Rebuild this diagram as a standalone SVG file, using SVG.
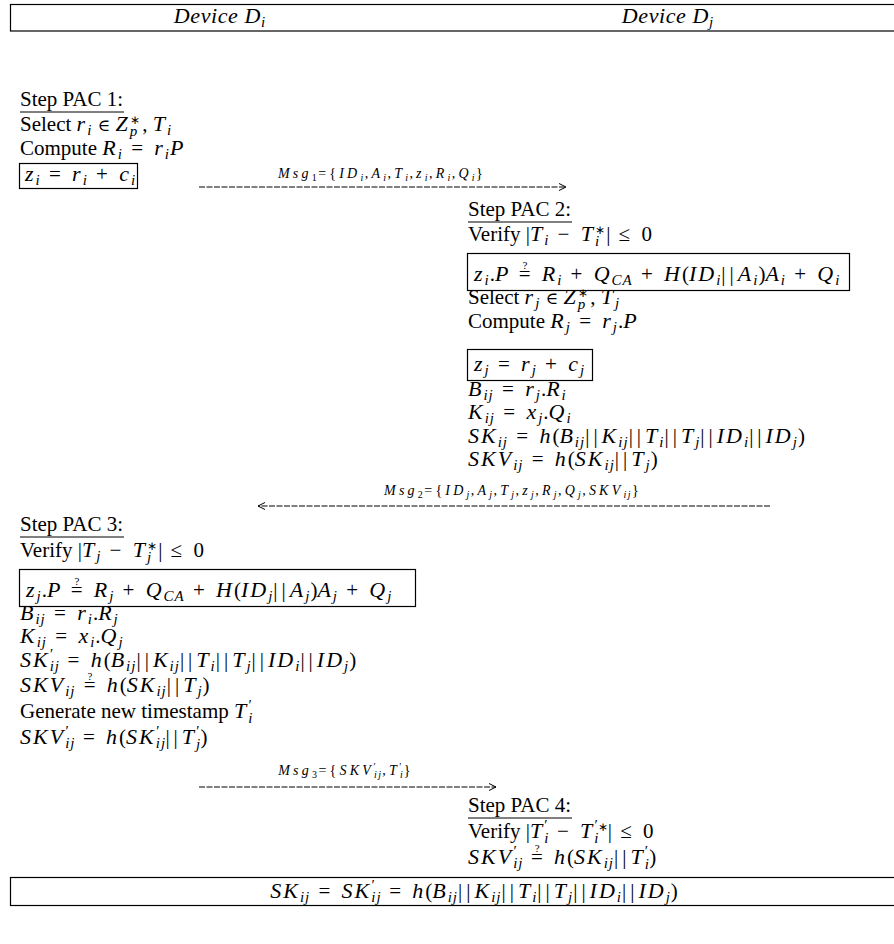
<svg xmlns="http://www.w3.org/2000/svg" width="894" height="944" viewBox="0 0 894 944">
<defs>
<style>
.r{font-family:"Liberation Serif","Times New Roman",serif;font-size:21px;fill:#000}
.h{font-style:italic;font-size:22px;letter-spacing:0.6px}
.m{font-size:22px;font-style:italic;letter-spacing:2px}
.o{letter-spacing:3px}
.v{letter-spacing:4px}
.e{font-family:"DejaVu Serif",serif;font-size:17px}
.st{font-size:12px;font-style:normal;letter-spacing:0}
.b{font-size:15px;font-style:italic;letter-spacing:1px}
.bn{font-size:15px;font-style:normal;letter-spacing:0}
.q{font-size:11px;font-style:normal;letter-spacing:0}
.u{font-style:normal}
.msg{font-family:"Liberation Serif","Times New Roman",serif;font-size:14px;font-style:italic;letter-spacing:3.2px;fill:#000}
.ms{font-size:10px;letter-spacing:1.5px}
.ln{stroke:#000;stroke-width:1;fill:none}
.box{stroke:#000;stroke-width:1.2;fill:none}
.arr{stroke:#000;stroke-width:1;fill:none;stroke-dasharray:6 1.5}
</style>
<marker id="ah" viewBox="0 0 10 10" refX="9" refY="5" markerWidth="10" markerHeight="10" markerUnits="userSpaceOnUse" orient="auto">
<path d="M2,1.5 L9,5 L2,8.5" fill="none" stroke="#000" stroke-width="1"/>
</marker>
</defs>
<rect width="894" height="944" fill="#fff"/>

<g id="header">
<rect class="box" x="10.5" y="4.5" width="890" height="26.5"/>
<text class="r h" x="220" y="23" text-anchor="middle">Device D<tspan class="b" baseline-shift="-4">i</tspan></text>
<text class="r h" x="668" y="23" text-anchor="middle">Device D<tspan class="b" baseline-shift="-4">j</tspan></text>
</g>

<g id="pac1">
<text class="r" x="20" y="106">Step PAC 1:</text>
<line class="ln" x1="20" y1="112" x2="124" y2="112"/>
<text class="r" x="20" y="131">Select <tspan class="m">r</tspan><tspan class="b" baseline-shift="-4">i</tspan> <tspan class="e">∈</tspan> <tspan class="m">Z</tspan><tspan class="b" baseline-shift="-5">p</tspan><tspan class="st" dx="-8" baseline-shift="7">∗</tspan><tspan dx="2">, </tspan><tspan class="m">T</tspan><tspan class="b" baseline-shift="-4">i</tspan></text>
<text class="r" x="20" y="155">Compute <tspan class="m">R</tspan><tspan class="b" baseline-shift="-4">i</tspan><tspan class="o"> = </tspan><tspan class="m">r</tspan><tspan class="b" baseline-shift="-4">i</tspan><tspan class="m">P</tspan></text>
<rect class="box" x="19.5" y="163.5" width="118" height="25"/>
<text class="r" x="25" y="181"><tspan class="m">z</tspan><tspan class="b" baseline-shift="-4">i</tspan><tspan class="o"> = </tspan><tspan class="m">r</tspan><tspan class="b" baseline-shift="-4">i</tspan><tspan class="o"> + </tspan><tspan class="m">c</tspan><tspan class="b" baseline-shift="-4">i</tspan></text>
</g>

<g id="pac2">
<text class="r" x="468" y="216">Step PAC 2:</text>
<line class="ln" x1="468" y1="222" x2="572" y2="222"/>
<text class="r" x="468" y="241">Verify |<tspan class="m">T</tspan><tspan class="b" baseline-shift="-4">i</tspan><tspan class="o"> − </tspan><tspan class="m">T</tspan><tspan class="b" baseline-shift="-5">i</tspan><tspan class="st" dx="-5" baseline-shift="7">∗</tspan><tspan dx="1">|</tspan><tspan class="o"> ≤ </tspan>0</text>
<rect class="box" x="467.5" y="253.5" width="382" height="37"/>
<text class="r" x="474" y="281"><tspan class="m">z</tspan><tspan class="b" baseline-shift="-4">i</tspan>.<tspan class="m">P</tspan><tspan class="o"> =</tspan><tspan class="q" dx="-11" baseline-shift="12">?</tspan><tspan class="o" dx="6"> </tspan><tspan class="m">R</tspan><tspan class="b" baseline-shift="-4">i</tspan><tspan class="o"> + </tspan><tspan class="m">Q</tspan><tspan class="b" baseline-shift="-4">CA</tspan><tspan class="o"> + </tspan><tspan class="m">H</tspan>(<tspan class="m">ID</tspan><tspan class="b" baseline-shift="-4">i</tspan><tspan class="v">||</tspan><tspan class="m">A</tspan><tspan class="b" baseline-shift="-4">i</tspan>)<tspan class="m">A</tspan><tspan class="b" baseline-shift="-4">i</tspan><tspan class="o"> + </tspan><tspan class="m">Q</tspan><tspan class="b" baseline-shift="-4">i</tspan></text>
<text class="r" x="468" y="304">Select <tspan class="m">r</tspan><tspan class="b" baseline-shift="-4">j</tspan> <tspan class="e">∈</tspan> <tspan class="m">Z</tspan><tspan class="b" baseline-shift="-5">p</tspan><tspan class="st" dx="-8" baseline-shift="7">∗</tspan><tspan dx="2">, </tspan><tspan class="m">T</tspan><tspan class="b" baseline-shift="-4">j</tspan></text>
<text class="r" x="468" y="328">Compute <tspan class="m">R</tspan><tspan class="b" baseline-shift="-4">j</tspan><tspan class="o"> = </tspan><tspan class="m">r</tspan><tspan class="b" baseline-shift="-4">j</tspan>.<tspan class="m">P</tspan></text>
<rect class="box" x="467.5" y="349.5" width="125" height="31"/>
<text class="r" x="474" y="371"><tspan class="m">z</tspan><tspan class="b" baseline-shift="-4">j</tspan><tspan class="o"> = </tspan><tspan class="m">r</tspan><tspan class="b" baseline-shift="-4">j</tspan><tspan class="o"> + </tspan><tspan class="m">c</tspan><tspan class="b" baseline-shift="-4">j</tspan></text>
<text class="r" x="468" y="396"><tspan class="m">B</tspan><tspan class="b" baseline-shift="-4">ij</tspan><tspan class="o"> = </tspan><tspan class="m">r</tspan><tspan class="b" baseline-shift="-4">j</tspan>.<tspan class="m">R</tspan><tspan class="b" baseline-shift="-4">i</tspan></text>
<text class="r" x="468" y="419"><tspan class="m">K</tspan><tspan class="b" baseline-shift="-4">ij</tspan><tspan class="o"> = </tspan><tspan class="m">x</tspan><tspan class="b" baseline-shift="-4">j</tspan>.<tspan class="m">Q</tspan><tspan class="b" baseline-shift="-4">i</tspan></text>
<text class="r" x="468" y="443"><tspan class="m">SK</tspan><tspan class="b" baseline-shift="-4">ij</tspan><tspan class="o"> = </tspan><tspan class="m">h</tspan>(<tspan class="m">B</tspan><tspan class="b" baseline-shift="-4">ij</tspan><tspan class="v">||</tspan><tspan class="m">K</tspan><tspan class="b" baseline-shift="-4">ij</tspan><tspan class="v">||</tspan><tspan class="m">T</tspan><tspan class="b" baseline-shift="-4">i</tspan><tspan class="v">||</tspan><tspan class="m">T</tspan><tspan class="b" baseline-shift="-4">j</tspan><tspan class="v">||</tspan><tspan class="m">ID</tspan><tspan class="b" baseline-shift="-4">i</tspan><tspan class="v">||</tspan><tspan class="m">ID</tspan><tspan class="b" baseline-shift="-4">j</tspan>)</text>
<text class="r" x="468" y="466"><tspan class="m">SKV</tspan><tspan class="b" baseline-shift="-4">ij</tspan><tspan class="o"> = </tspan><tspan class="m">h</tspan>(<tspan class="m">SK</tspan><tspan class="b" baseline-shift="-4">ij</tspan><tspan class="v">||</tspan><tspan class="m">T</tspan><tspan class="b" baseline-shift="-4">j</tspan>)</text>
</g>

<g id="pac3">
<text class="r" x="20" y="531">Step PAC 3:</text>
<line class="ln" x1="20" y1="537" x2="124" y2="537"/>
<text class="r" x="20" y="557">Verify |<tspan class="m">T</tspan><tspan class="b" baseline-shift="-4">j</tspan><tspan class="o"> − </tspan><tspan class="m">T</tspan><tspan class="b" baseline-shift="-5">j</tspan><tspan class="st" dx="-5" baseline-shift="7">∗</tspan><tspan dx="1">|</tspan><tspan class="o"> ≤ </tspan>0</text>
<rect class="box" x="19.5" y="569.5" width="396" height="37"/>
<text class="r" x="26" y="597"><tspan class="m">z</tspan><tspan class="b" baseline-shift="-4">j</tspan>.<tspan class="m">P</tspan><tspan class="o"> =</tspan><tspan class="q" dx="-11" baseline-shift="12">?</tspan><tspan class="o" dx="6"> </tspan><tspan class="m">R</tspan><tspan class="b" baseline-shift="-4">j</tspan><tspan class="o"> + </tspan><tspan class="m">Q</tspan><tspan class="b" baseline-shift="-4">CA</tspan><tspan class="o"> + </tspan><tspan class="m">H</tspan>(<tspan class="m">ID</tspan><tspan class="b" baseline-shift="-4">j</tspan><tspan class="v">||</tspan><tspan class="m">A</tspan><tspan class="b" baseline-shift="-4">j</tspan>)<tspan class="m">A</tspan><tspan class="b" baseline-shift="-4">j</tspan><tspan class="o"> + </tspan><tspan class="m">Q</tspan><tspan class="b" baseline-shift="-4">j</tspan></text>
<text class="r" x="20" y="620"><tspan class="m">B</tspan><tspan class="b" baseline-shift="-4">ij</tspan><tspan class="o"> = </tspan><tspan class="m">r</tspan><tspan class="b" baseline-shift="-4">i</tspan>.<tspan class="m">R</tspan><tspan class="b" baseline-shift="-4">j</tspan></text>
<text class="r" x="20" y="643"><tspan class="m">K</tspan><tspan class="b" baseline-shift="-4">ij</tspan><tspan class="o"> = </tspan><tspan class="m">x</tspan><tspan class="b" baseline-shift="-4">i</tspan>.<tspan class="m">Q</tspan><tspan class="b" baseline-shift="-4">j</tspan></text>
<text class="r" x="20" y="667"><tspan class="m">SK</tspan><tspan class="b" baseline-shift="-4">ij</tspan><tspan class="bn" dx="-10" baseline-shift="8">′</tspan><tspan class="o" dx="6"> = </tspan><tspan class="m">h</tspan>(<tspan class="m">B</tspan><tspan class="b" baseline-shift="-4">ij</tspan><tspan class="v">||</tspan><tspan class="m">K</tspan><tspan class="b" baseline-shift="-4">ij</tspan><tspan class="v">||</tspan><tspan class="m">T</tspan><tspan class="b" baseline-shift="-4">i</tspan><tspan class="v">||</tspan><tspan class="m">T</tspan><tspan class="b" baseline-shift="-4">j</tspan><tspan class="v">||</tspan><tspan class="m">ID</tspan><tspan class="b" baseline-shift="-4">i</tspan><tspan class="v">||</tspan><tspan class="m">ID</tspan><tspan class="b" baseline-shift="-4">j</tspan>)</text>
<text class="r" x="20" y="692"><tspan class="m">SKV</tspan><tspan class="b" baseline-shift="-4">ij</tspan><tspan class="o"> =</tspan><tspan class="q" dx="-11" baseline-shift="12">?</tspan><tspan class="o" dx="6"> </tspan><tspan class="m">h</tspan>(<tspan class="m">SK</tspan><tspan class="b" baseline-shift="-4">ij</tspan><tspan class="v">||</tspan><tspan class="m">T</tspan><tspan class="b" baseline-shift="-4">j</tspan>)</text>
<text class="r" x="20" y="718">Generate new timestamp <tspan class="m">T</tspan><tspan class="b" baseline-shift="-5">i</tspan><tspan class="bn" dx="-5" baseline-shift="8">′</tspan></text>
<text class="r" x="20" y="744"><tspan class="m">SKV</tspan><tspan class="b" baseline-shift="-4">ij</tspan><tspan class="bn" dx="-10" baseline-shift="8">′</tspan><tspan class="o" dx="6"> = </tspan><tspan class="m">h</tspan>(<tspan class="m">SK</tspan><tspan class="b" baseline-shift="-4">ij</tspan><tspan class="bn" dx="-10" baseline-shift="8">′</tspan><tspan class="v" dx="6">||</tspan><tspan class="m">T</tspan><tspan class="b" baseline-shift="-5">j</tspan><tspan class="bn" dx="-5" baseline-shift="8">′</tspan><tspan dx="1">)</tspan></text>
</g>

<g id="pac4">
<text class="r" x="468" y="812">Step PAC 4:</text>
<line class="ln" x1="468" y1="818" x2="572" y2="818"/>
<text class="r" x="468" y="838">Verify |<tspan class="m">T</tspan><tspan class="b" baseline-shift="-5">i</tspan><tspan class="bn" dx="-5" baseline-shift="8">′</tspan><tspan class="o" dx="1"> − </tspan><tspan class="m">T</tspan><tspan class="b" baseline-shift="-5">i</tspan><tspan class="bn" dx="-5" baseline-shift="8">′</tspan><tspan class="st" baseline-shift="7">∗</tspan>|<tspan class="o"> ≤ </tspan>0</text>
<text class="r" x="468" y="864"><tspan class="m">SKV</tspan><tspan class="b" baseline-shift="-4">ij</tspan><tspan class="bn" dx="-10" baseline-shift="8">′</tspan><tspan class="o" dx="6"> =</tspan><tspan class="q" dx="-11" baseline-shift="12">?</tspan><tspan class="o" dx="6"> </tspan><tspan class="m">h</tspan>(<tspan class="m">SK</tspan><tspan class="b" baseline-shift="-4">ij</tspan><tspan class="v">||</tspan><tspan class="m">T</tspan><tspan class="b" baseline-shift="-5">i</tspan><tspan class="bn" dx="-5" baseline-shift="8">′</tspan><tspan dx="1">)</tspan></text>
</g>

<g id="result">
<rect class="box" x="10.5" y="877.5" width="890" height="28"/>
<text class="r" x="474" y="898" text-anchor="middle"><tspan class="m">SK</tspan><tspan class="b" baseline-shift="-4">ij</tspan><tspan class="o"> = </tspan><tspan class="m">SK</tspan><tspan class="b" baseline-shift="-4">ij</tspan><tspan class="bn" dx="-10" baseline-shift="8">′</tspan><tspan class="o" dx="6"> = </tspan><tspan class="m">h</tspan>(<tspan class="m">B</tspan><tspan class="b" baseline-shift="-4">ij</tspan><tspan class="v">||</tspan><tspan class="m">K</tspan><tspan class="b" baseline-shift="-4">ij</tspan><tspan class="v">||</tspan><tspan class="m">T</tspan><tspan class="b" baseline-shift="-4">i</tspan><tspan class="v">||</tspan><tspan class="m">T</tspan><tspan class="b" baseline-shift="-4">j</tspan><tspan class="v">||</tspan><tspan class="m">ID</tspan><tspan class="b" baseline-shift="-4">i</tspan><tspan class="v">||</tspan><tspan class="m">ID</tspan><tspan class="b" baseline-shift="-4">j</tspan>)</text>
</g>

<g id="connectors">
<line class="arr" x1="199" y1="187" x2="566" y2="187" marker-end="url(#ah)"/>
<text class="msg" x="382" y="178" text-anchor="middle">Msg<tspan class="ms u" baseline-shift="-3">1</tspan><tspan class="u">={</tspan>ID<tspan class="ms" baseline-shift="-3">i</tspan><tspan class="u">,</tspan>A<tspan class="ms" baseline-shift="-3">i</tspan><tspan class="u">,</tspan>T<tspan class="ms" baseline-shift="-3">i</tspan><tspan class="u">,</tspan>z<tspan class="ms" baseline-shift="-3">i</tspan><tspan class="u">,</tspan>R<tspan class="ms" baseline-shift="-3">i</tspan><tspan class="u">,</tspan>Q<tspan class="ms" baseline-shift="-3">i</tspan><tspan class="u">}</tspan></text>
<line class="arr" x1="770" y1="506" x2="258" y2="506" marker-end="url(#ah)"/>
<text class="msg" x="513" y="495" text-anchor="middle">Msg<tspan class="ms u" baseline-shift="-3">2</tspan><tspan class="u">={</tspan>ID<tspan class="ms" baseline-shift="-3">j</tspan><tspan class="u">,</tspan>A<tspan class="ms" baseline-shift="-3">j</tspan><tspan class="u">,</tspan>T<tspan class="ms" baseline-shift="-3">j</tspan><tspan class="u">,</tspan>z<tspan class="ms" baseline-shift="-3">j</tspan><tspan class="u">,</tspan>R<tspan class="ms" baseline-shift="-3">j</tspan><tspan class="u">,</tspan>Q<tspan class="ms" baseline-shift="-3">j</tspan><tspan class="u">,</tspan>SKV<tspan class="ms" baseline-shift="-3">ij</tspan><tspan class="u">}</tspan></text>
<line class="arr" x1="199" y1="787" x2="496" y2="787" marker-end="url(#ah)"/>
<text class="msg" x="346" y="775" text-anchor="middle">Msg<tspan class="ms u" baseline-shift="-3">3</tspan><tspan class="u">={</tspan>SKV<tspan class="ms" baseline-shift="-3">ij</tspan><tspan class="ms u" dx="-9" baseline-shift="5">′</tspan><tspan class="u" dx="5">,</tspan>T<tspan class="ms" baseline-shift="-3">i</tspan><tspan class="ms u" dx="-5" baseline-shift="5">′</tspan><tspan class="u" dx="1">}</tspan></text>
</g>
</svg>
